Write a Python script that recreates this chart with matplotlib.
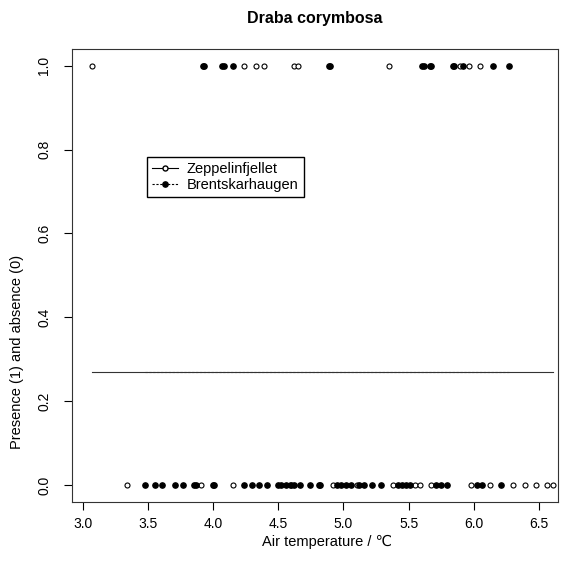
import matplotlib.pyplot as plt
from matplotlib.lines import Line2D

plt.rcParams['font.family'] = ['Liberation Sans', 'DejaVu Sans']

# Zeppelinfjellet (open circles)
zep_present = [3.07, 4.24, 4.33, 4.39, 4.62, 4.65, 5.35, 5.89, 5.96, 6.05]
zep_absent = [3.34, 3.91, 4.15, 4.59, 4.92, 5.10, 5.38, 5.55, 5.585, 5.67,
              5.98, 6.12, 6.30, 6.39, 6.48, 6.56, 6.61]

# Brentskarhaugen (filled circles)
bre_present = [3.92, 3.93, 4.065, 4.08, 4.15, 4.89, 4.90, 5.60, 5.62, 5.66,
               5.67, 5.84, 5.85, 5.92, 6.15, 6.27]
bre_absent = [3.48, 3.555, 3.605, 3.71, 3.77, 3.85, 3.87, 4.00, 4.01, 4.24,
              4.30, 4.35, 4.41, 4.50, 4.52, 4.56, 4.60, 4.62, 4.67, 4.74,
              4.81, 4.82, 4.95, 4.98, 5.02, 5.06, 5.12, 5.16, 5.22, 5.29,
              5.42, 5.45, 5.48, 5.51, 5.71, 5.75, 5.79, 6.02, 6.06, 6.21]

# fitted probability (constant model) for each site
zep_fit = 0.27
bre_fit = 0.27

fig = plt.figure(figsize=(5.69, 5.69), dpi=100)
ax = fig.add_axes([0.1265, 0.118, 0.8535, 0.796])

ax.plot(zep_present, [1] * len(zep_present), 'o', mfc='white', mec='black', ms=3.6, mew=0.8)
ax.plot(zep_absent, [0] * len(zep_absent), 'o', mfc='white', mec='black', ms=3.6, mew=0.8)
ax.plot(bre_present, [1] * len(bre_present), 'o', color='black', ms=3.8)
ax.plot(bre_absent, [0] * len(bre_absent), 'o', color='black', ms=3.8)

zep_all = zep_present + zep_absent
bre_all = bre_present + bre_absent
ax.plot([min(zep_all), max(zep_all)], [zep_fit, zep_fit], '-', color='#333333', lw=0.8)
ax.plot([min(bre_all), max(bre_all)], [bre_fit, bre_fit], '--', color='#333333', lw=0.8,
        dashes=(2, 1.5))

ax.set_xlim(2.918, 6.642)
ax.set_ylim(-0.04, 1.04)
ax.set_xticks([3.0, 3.5, 4.0, 4.5, 5.0, 5.5, 6.0, 6.5])
ax.set_yticks([0.0, 0.2, 0.4, 0.6, 0.8, 1.0])
ax.set_xticklabels(['3.0', '3.5', '4.0', '4.5', '5.0', '5.5', '6.0', '6.5'])
ax.set_yticklabels(['0.0', '0.2', '0.4', '0.6', '0.8', '1.0'], rotation=90, va='center')
ax.tick_params(direction='out', length=6, width=0.8, labelsize=10)
ax.tick_params(axis='x', pad=5)
ax.tick_params(axis='y', pad=9)
for s in ax.spines.values():
    s.set_linewidth(0.8)
    s.set_color('#333333')

ax.set_xlabel('Air temperature / \u2103', fontsize=10.5)
ax.set_ylabel('Presence (1) and absence (0)', fontsize=10.5)
ax.xaxis.set_label_coords(0.525, -0.072)
ax.yaxis.set_label_coords(-0.099, 0.33)
ax.set_title('Draba corymbosa', fontsize=11.5, fontweight='bold', pad=19)

handles = [
    Line2D([], [], ls='-', color='black', lw=0.8, marker='o', mfc='white', mec='black', ms=3.6),
    Line2D([], [], ls='--', color='black', lw=0.8, dashes=(2, 1.5), marker='o', ms=3.8),
]
ax.legend(handles, ['Zeppelinfjellet', 'Brentskarhaugen'], loc='upper left',
          bbox_to_anchor=(0.154, 0.762), fontsize=10.5, frameon=True, fancybox=False,
          edgecolor='black', framealpha=1, borderpad=0.35, handlelength=1.8,
          handletextpad=0.6, labelspacing=0.15, borderaxespad=0)

fig.savefig('out.png', dpi=100)
